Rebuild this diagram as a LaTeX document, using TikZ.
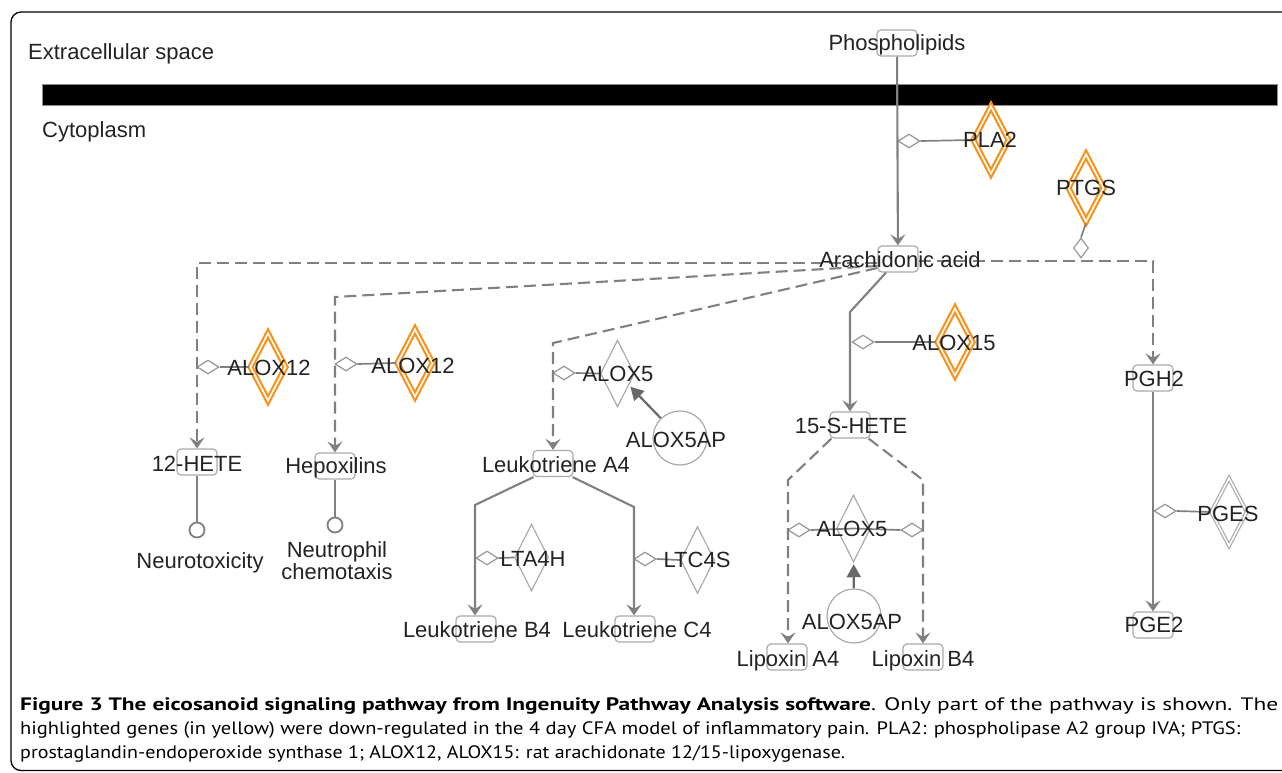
\documentclass[tikz,border=0pt]{standalone}
\usepackage{fontspec}
\usepackage{graphicx}
\setmainfont{Liberation Sans}
\newfontfamily\capfont{PT Sans}
\usetikzlibrary{arrows.meta,shapes.geometric,calc}

\definecolor{edgegray}{RGB}{128,128,128}
\definecolor{boxgray}{RGB}{170,170,170}
\definecolor{hiorange}{RGB}{247,148,29}
\definecolor{inkgray}{RGB}{35,35,35}
\definecolor{modgray}{RGB}{150,150,150}
\definecolor{actgray}{RGB}{105,105,105}

\begin{document}
\begin{tikzpicture}[x=1pt,y=-1pt,
  mol/.style={draw=boxgray, fill=white, line width=1.2pt, rounded corners=4pt,
    minimum width=40pt, minimum height=26pt, inner sep=0},
  lbl/.style={font=\fontsize{22}{22}\selectfont, text=inkgray, inner sep=0,
    text height=15.7pt, text depth=0pt},
  enzhi/.style={diamond, draw=hiorange, line width=2.2pt, double=white,
    double distance=1.6pt, minimum width=36pt, minimum height=68pt, inner sep=0},
  enzdbl/.style={enzhi, draw=boxgray, line width=1.2pt},
  enz/.style={diamond, draw=boxgray, line width=1.2pt, minimum width=34pt,
    minimum height=67pt, inner sep=0},
  modh/.style={diamond, draw=modgray, fill=white, line width=1.2pt,
    minimum width=22pt, minimum height=14pt, inner sep=0},
  modv/.style={modh, minimum width=15pt, minimum height=20pt},
  prot/.style={circle, draw=boxgray, line width=1.2pt, minimum size=54pt, inner sep=0},
  fnode/.style={circle, draw=edgegray, line width=1.8pt, minimum size=15pt, inner sep=0},
  link/.style={draw=edgegray, line width=2.1pt},
  dlink/.style={link, dash pattern=on 12pt off 6pt},
  mlink/.style={draw=edgegray, line width=1.7pt},
  react/.style={-{Stealth[length=11pt,width=15pt,inset=4.5pt]}},
  act/.style={draw=actgray, line width=2.2pt, -{Triangle[length=13pt,width=14pt]}, shorten >=2pt},
  captxt/.style={anchor=base west, inner sep=0, text=black, font=\capfont\fontsize{18}{18}\selectfont}
]
\useasboundingbox (0,0) rectangle (1282,772);
\clip (0,0) rectangle (1282,772);

% frame and membrane
\draw[line width=1.3pt, rounded corners=10pt] (11,12) rectangle (1320,770.5);
\fill[draw=black!45, line width=0.8pt] (42,84) rectangle (1277,105);
\node[lbl, anchor=west] (ecs) at (28,51.5) {Extracellular space};
\node[lbl, anchor=west] (cyt) at (42,130) {Cytoplasm};

% molecules
\node[mol] (phos) at (897,43) {};
\node[mol] (aa) at (898,259) {};
\node[mol] (hete12) at (197,462) {};
\node[mol] (hepox) at (335,466) {};
\node[mol] (lta4) at (553,463.5) {};
\node[mol] (ltb4) at (476,629) {};
\node[mol] (ltc4) at (635,629) {};
\node[mol] (hete15) at (850,425) {};
\node[mol] (lipa) at (787,657) {};
\node[mol] (lipb) at (923,657) {};
\node[mol] (pgh2) at (1153,378) {};
\node[mol] (pge2) at (1153,625) {};

% enzymes
\node[enzhi] (pla2) at (991,140) {};
\node[enzhi] (ptgs) at (1086,188) {};
\node[enzhi] (alox12a) at (268,367) {};
\node[enzhi] (alox12b) at (415,363) {};
\node[enzhi] (alox15) at (955,342) {};
\node[enz] (alox5a) at (617.5,373.5) {};
\node[enz] (lta4h) at (531.5,557.5) {};
\node[enz] (ltc4s) at (697.5,560) {};
\node[enz] (alox5b) at (853.5,528.5) {};
\node[enzdbl] (pges) at (1229,512) {};

% other proteins and functions
\node[prot] (ap1) at (680,438) {};
\node[prot] (ap2) at (854,616) {};
\node[fnode] (fn1) at (197,530) {};
\node[fnode] (fn2) at (335,525) {};

% modulator diamonds on the reactions
\node[modh] (pla2m) at (909,141) {};
\node[modv] (ptgsm) at (1081,248) {};
\node[modh] (alox12am) at (208,367) {};
\node[modh] (alox12bm) at (346,364) {};
\node[modh] (alox5am) at (564,373) {};
\node[modh] (lta4hm) at (487,558) {};
\node[modh] (ltc4sm) at (645,559) {};
\node[modh] (alox15m) at (863,342) {};
\node[modh] (alox5bm1) at (799,530) {};
\node[modh] (alox5bm2) at (912,530) {};
\node[modh] (pgesm) at (1165,511) {};

% bends of the reaction lines
\coordinate (khx) at (335,297);
\coordinate (klt) at (553,343);
\coordinate (kh15) at (850,312);
\coordinate (kb4) at (475,505);
\coordinate (kc4) at (634,507);
\coordinate (kla) at (788,480);
\coordinate (klb) at (923,480);

% reactions
\draw[link,react] (phos) -- (aa);
\draw[dlink,react] ($(aa.west)+(0,4)$) -| (hete12);
\draw[dlink,react] ($(aa.west)+(0,7)$) -- (khx) -- (khx |- hepox.north);
\draw[dlink,react] ($(aa.west)+(0,9)$) -- (klt) -- (klt |- lta4.north);
\draw[dlink,react] ($(aa.east)+(0,2)$) -| (pgh2);
\draw[link,react] ($(aa.south)+(-12,0)$) -- (kh15) -- (kh15 |- hete15.north);
\draw[link,react] ($(lta4.south west)+(1,0)$) -- (kb4) -- (kb4 |- ltb4.north);
\draw[link,react] ($(lta4.south east)+(-1,0)$) -- (kc4) -- (kc4 |- ltc4.north);
\draw[dlink,react] ($(hete15.south west)+(2,0)$) -- (kla) -- (kla |- lipa.north);
\draw[dlink,react] ($(hete15.south east)+(-2,0)$) -- (klb) -- (klb |- lipb.north);
\draw[link,react] (pgh2) -- (pge2);
\draw[link] (hete12) -- (fn1);
\draw[link] (hepox) -- (fn2);

% enzyme links
\draw[mlink] (pla2m.east) -- (pla2.west);
\draw[mlink] (ptgs.south) -- (ptgsm.north);
\draw[mlink] (alox12am.east) -- (alox12a.west);
\draw[mlink] (alox12bm.east) -- (alox12b.west);
\draw[mlink] (alox5am.east) -- (alox5a.west);
\draw[mlink] (lta4hm.east) -- (lta4h.west);
\draw[mlink] (ltc4sm.east) -- (ltc4s.west);
\draw[mlink] (alox15m.east) -- (alox15.west);
\draw[mlink] (alox5bm1.east) -- (alox5b.center) -- (alox5bm2.west);
\draw[mlink] (pgesm.east) -- (pges.west);
\draw[act] (ap1) -- (alox5a);
\draw[act] (ap2) -- (alox5b);

% labels
\node[lbl] at (897,43) {Phospholipids};
\node[lbl] at (900,259.5) {Arachidonic acid};
\node[lbl] at (990,140) {PLA2};
\node[lbl] at (1086,188) {PTGS};
\node[lbl] at (269,368) {ALOX12};
\node[lbl] at (413,366) {ALOX12};
\node[lbl] at (197,464) {12-HETE};
\node[lbl] at (336,466) {Hepoxilins};
\node[lbl] at (200,561) {Neurotoxicity};
\node[font=\fontsize{22}{22}\selectfont, text=inkgray, inner sep=0, align=center] at (337,561) {Neutrophil\\chemotaxis};
\node[lbl] at (556,465) {Leukotriene A4};
\node[lbl] at (618,374) {ALOX5};
\node[lbl] at (676,440) {ALOX5AP};
\node[lbl] at (533,559) {LTA4H};
\node[lbl] at (697,560) {LTC4S};
\node[lbl] at (477,630) {Leukotriene B4};
\node[lbl] at (637,630) {Leukotriene C4};
\node[lbl] at (954,343) {ALOX15};
\node[lbl] at (851,426) {15-S-HETE};
\node[lbl] at (852,529) {ALOX5};
\node[lbl] at (852,622) {ALOX5AP};
\node[lbl] at (788,659) {Lipoxin A4};
\node[lbl] at (923,659) {Lipoxin B4};
\node[lbl] at (1154,379) {PGH2};
\node[lbl] at (1228,514) {PGES};
\node[lbl] at (1154,625) {PGE2};

% caption
\node[captxt] (cap1) at (20,710) {\resizebox{1258pt}{\height}{\textbf{Figure 3 The eicosanoid signaling pathway from Ingenuity Pathway Analysis software}. Only part of the pathway is shown. The}};
\node[captxt] (cap2) at (20,734) {\resizebox{1220pt}{\height}{highlighted genes (in yellow) were down-regulated in the 4 day CFA model of inflammatory pain. PLA2: phospholipase A2 group IVA; PTGS:}};
\node[captxt] (cap3) at (20,758) {\resizebox{825pt}{\height}{prostaglandin-endoperoxide synthase 1; ALOX12, ALOX15: rat arachidonate 12/15-lipoxygenase.}};
\end{tikzpicture}
\end{document}
